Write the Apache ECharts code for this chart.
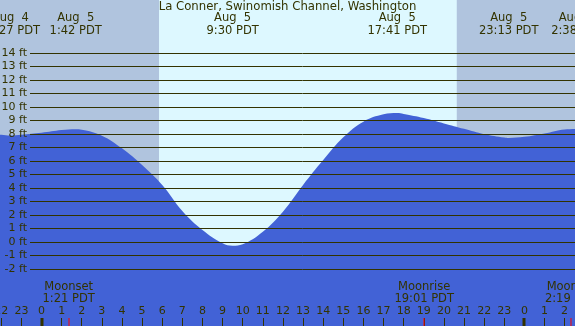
<!DOCTYPE html>
<html>
<head>
<meta charset="utf-8">
<script src="https://cdn.jsdelivr.net/npm/echarts@6/dist/echarts.min.js"></script>
<style>
  html, body { margin: 0; padding: 0; background: #b0c4de; }
  #main { width: 575px; height: 326px; }
</style>
</head>
<body>
<div id="main"></div>
<script>
// hours are counted from midnight Aug 5 (PDT)
const tideHeights = [
  [-3, 8.15], [-2, 7.95], [-1.55, 7.9], [-1, 7.96], [0, 8.1], [1, 8.3], [1.7, 8.36],
  [2, 8.33], [3, 7.89], [4, 6.95], [5, 5.71], [6, 4.23], [7, 2.3], [8, 0.89],
  [9, -0.1], [9.5, -0.28], [10, -0.17], [11, 0.76], [12, 2.25], [13, 4.23],
  [14, 6.08], [15, 7.77], [16, 8.93], [17, 9.47], [17.68, 9.57], [18, 9.5],
  [19, 9.2], [20, 8.8], [21, 8.4], [22, 8.0], [23, 7.75], [23.22, 7.72],
  [24, 7.8], [25, 8.05], [26, 8.35], [27, 8.4]
]
const tideTimes = [-1.55, 1.7, 9.5, 17.68, 23.22, 26.63]
const tideLabels = ['Aug  4\n22:27 PDT', 'Aug  5\n1:42 PDT', 'Aug  5\n9:30 PDT',
  'Aug  5\n17:41 PDT', 'Aug  5\n23:13 PDT', 'Aug  6\n2:38 PDT']
const moonTimes = [1.35, 19.02, 26.32]
const moonLabels = ['Moonset\n1:21 PDT', 'Moonrise\n19:01 PDT', 'Moonset\n2:19 PDT']
const sunrise = 5.84
const sunset = 20.64
const midnights = [0, 24]
const hourTicks = [-2, -1, 0, 1, 2, 3, 4, 5, 6, 7, 8, 9, 10, 11, 12, 13, 14, 15,
  16, 17, 18, 19, 20, 21, 22, 23, 24, 25, 26]
const title = 'La Conner, Swinomish Channel, Washington'

const ink = '#333300'
const font = 'DejaVu Sans'

var myChart = echarts.init(document.getElementById('main'))

function textSeries (times, labels, yMid, lh) {
  return {
    type: 'custom',
    xAxisIndex: 0,
    yAxisIndex: 0,
    z: 20,
    silent: true,
    data: times.map(t => [t]),
    renderItem: function (params, api) {
      const x = api.coord([api.value(0), 0])[0]
      return {
        type: 'text',
        x: x,
        y: yMid,
        style: {
          text: labels[params.dataIndex],
          textAlign: 'center',
          textVerticalAlign: 'middle',
          lineHeight: lh,
          fontSize: 11.5,
          fontFamily: font,
          fill: ink
        }
      }
    }
  }
}

function tickSeries (times, w, color) {
  return {
    type: 'custom',
    xAxisIndex: 0,
    yAxisIndex: 0,
    z: 20,
    silent: true,
    data: times.map(t => [t]),
    renderItem: function (params, api) {
      const x = Math.round(api.coord([api.value(0), 0])[0])
      const bottom = params.coordSys.y + params.coordSys.height
      return {
        type: 'rect',
        shape: { x: x - Math.floor(w / 2) - 0.5, y: bottom - 8, width: w, height: 8 },
        style: { fill: color }
      }
    }
  }
}

var option = {
  animation: false,
  textStyle: { fontFamily: font },
  title: {
    text: title,
    left: 'center',
    top: 1,
    padding: 0,
    textStyle: { fontSize: 11.7, fontWeight: 'normal', color: ink, fontFamily: font }
  },
  grid: [
    { left: 0, right: 0, top: 0, bottom: 0, outerBoundsMode: 'none', containLabel: false, show: true, backgroundColor: '#b0c4de', borderWidth: 0 },
    { left: 30, right: 0, top: 53, bottom: 57, outerBoundsMode: 'none', containLabel: false }
  ],
  xAxis: [
    {
      type: 'value',
      gridIndex: 0,
      position: 'bottom',
      min: -2.063,
      max: 26.516,
      splitLine: { show: false },
      axisLine: { show: false, onZero: false },
      axisTick: {
        show: true,
        inside: true,
        length: 8,
        customValues: hourTicks,
        lineStyle: { color: ink, width: 1 }
      },
      axisLabel: {
        inside: true,
        margin: 9,
        customValues: hourTicks,
        fontSize: 11,
        color: ink,
        formatter: v => String(((v % 24) + 24) % 24)
      },
      z: 10
    },
    { type: 'value', gridIndex: 1, min: 0, max: 1, show: false }
  ],
  yAxis: [
    { type: 'value', gridIndex: 0, min: -6.231, max: 17.953, show: false },
    {
      type: 'value',
      gridIndex: 1,
      min: -2,
      max: 14,
      interval: 1,
      z: 10,
      axisLine: { show: false },
      axisTick: { show: false },
      splitLine: { lineStyle: { color: ink, width: 1 } },
      axisLabel: { margin: 3, fontSize: 11, color: ink, formatter: '{value} ft' }
    }
  ],
  series: [
    {
      type: 'line',
      xAxisIndex: 0,
      yAxisIndex: 0,
      z: 1,
      data: [],
      markArea: {
        silent: true,
        itemStyle: { color: '#ddf8ff' },
        data: [[{ xAxis: sunrise }, { xAxis: sunset }]]
      }
    },
    {
      name: 'tide',
      type: 'line',
      xAxisIndex: 0,
      yAxisIndex: 0,
      z: 2,
      smooth: 0.4,
      symbol: 'none',
      lineStyle: { width: 0 },
      areaStyle: { color: '#4262d6', opacity: 1, origin: 'start' },
      data: tideHeights
    },
    textSeries(tideTimes, tideLabels, 24.5, 13),
    textSeries(moonTimes, moonLabels, 293, 12),
    tickSeries(midnights, 3, ink),
    tickSeries(moonTimes, 1, '#ff0000')
  ]
}
option && myChart.setOption(option)
</script>
</body>
</html>
